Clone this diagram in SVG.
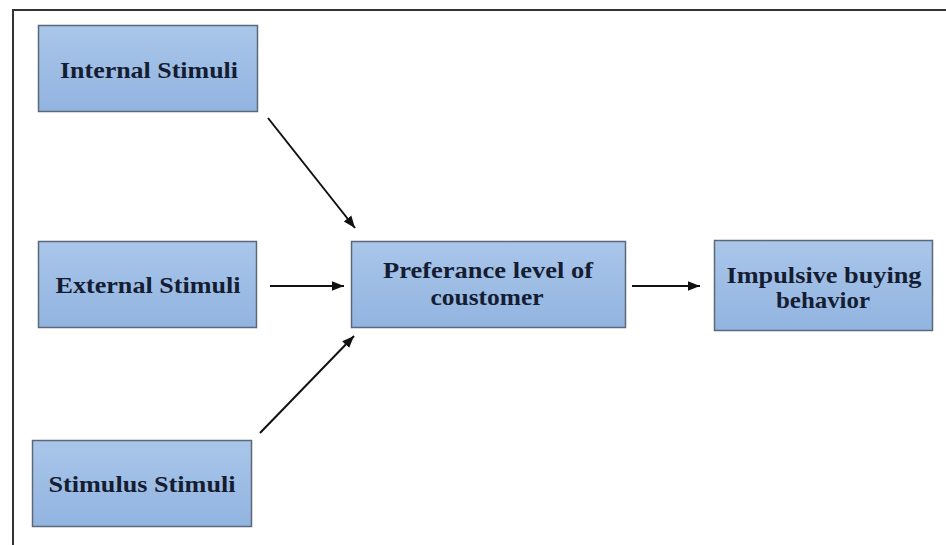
<svg xmlns="http://www.w3.org/2000/svg" width="946" height="545" viewBox="0 0 946 545">
<defs>
<linearGradient id="g" x1="0" y1="0" x2="0" y2="1">
<stop offset="0" stop-color="#aac6ea"/>
<stop offset="1" stop-color="#91b4e0"/>
</linearGradient>
<marker id="ah" viewBox="0 0 10 10" refX="10" refY="5" markerWidth="6" markerHeight="6" orient="auto" markerUnits="strokeWidth">
<path d="M0,1 L10,5 L0,9 z" fill="#111"/>
</marker>
<style>
.box{fill:url(#g);stroke:#5c6878;stroke-width:1.5}
.t{font-family:"Liberation Serif","Times New Roman",serif;font-weight:bold;font-size:24px;fill:#151d33;text-anchor:middle}
.c{stroke:#111;stroke-width:2;fill:none;marker-end:url(#ah)}
.f{stroke:#333;stroke-width:2;fill:none}
</style>
</defs>
<rect width="946" height="545" fill="#fff"/>
<path class="f" d="M13,545 V10 H946"/>
<g id="internal">
<rect class="box" x="38.5" y="25.5" width="219" height="86"/>
<text class="t" x="149" y="78" textLength="178" lengthAdjust="spacingAndGlyphs">Internal Stimuli</text>
</g>
<g id="external">
<rect class="box" x="38.5" y="241.5" width="218" height="86"/>
<text class="t" x="148" y="293" textLength="185" lengthAdjust="spacingAndGlyphs">External Stimuli</text>
</g>
<g id="stimulus">
<rect class="box" x="32.5" y="440.5" width="219" height="86"/>
<text class="t" x="142" y="492" textLength="187" lengthAdjust="spacingAndGlyphs">Stimulus Stimuli</text>
</g>
<g id="preference">
<rect class="box" x="351.5" y="241.5" width="274" height="86"/>
<text class="t" x="488" y="278" textLength="210" lengthAdjust="spacingAndGlyphs">Preferance level of</text>
<text class="t" x="487" y="305" textLength="113" lengthAdjust="spacingAndGlyphs">coustomer</text>
</g>
<g id="impulsive">
<rect class="box" x="714.5" y="240.5" width="218" height="90"/>
<text class="t" x="824" y="283" textLength="195" lengthAdjust="spacingAndGlyphs">Impulsive buying</text>
<text class="t" x="823" y="308" textLength="94" lengthAdjust="spacingAndGlyphs">behavior</text>
</g>
<g id="connectors">
<line class="c" x1="268" y1="118" x2="355" y2="228"/>
<line class="c" x1="270" y1="286" x2="344" y2="286"/>
<line class="c" x1="260" y1="433" x2="354" y2="336"/>
<line class="c" x1="632" y1="286" x2="700" y2="286"/>
</g>
</svg>
